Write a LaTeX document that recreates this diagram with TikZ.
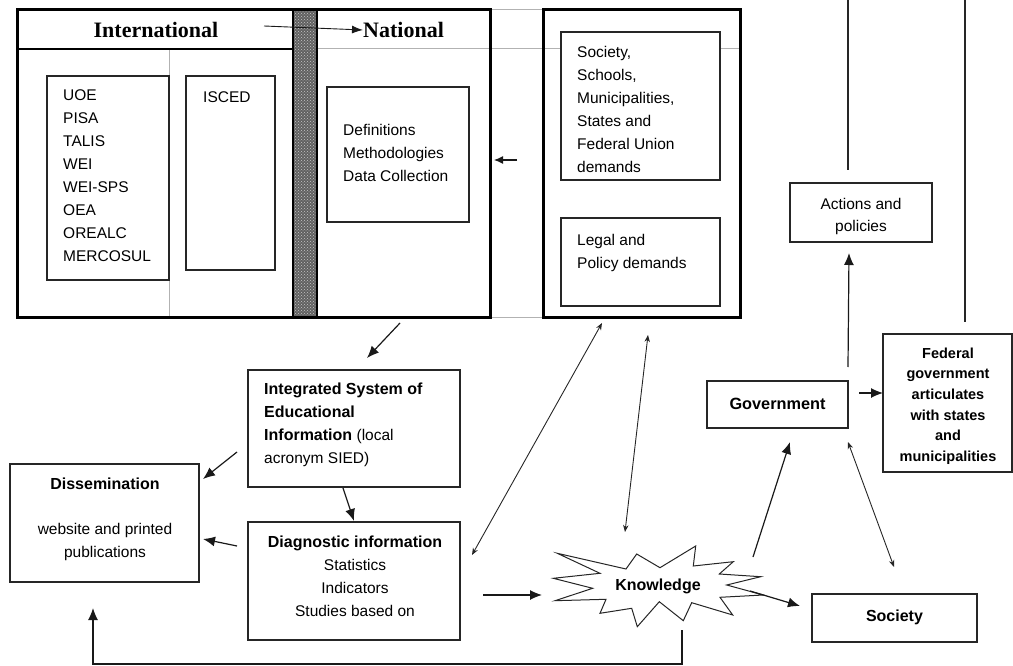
\documentclass[tikz,border=0pt]{standalone}
\usepackage{fontspec}
\setmainfont{Liberation Sans}
\newfontfamily\headserif{Liberation Serif}
\usetikzlibrary{arrows.meta,patterns}
\begin{document}
\begin{tikzpicture}[x=1pt,y=-1pt,
  box/.style={draw=black!85, line width=1.1pt, fill=white, inner sep=0pt, outer sep=0pt},
  frame/.style={draw=black, line width=3pt, inner sep=0pt, outer sep=0pt},
  gridline/.style={draw=black!30, line width=1pt},
  ln/.style={draw=black!85, line width=1.1pt},
  t/.style={font=\fontsize{15.5}{23}\selectfont, inner sep=0pt, align=left, anchor=north west},
  tc/.style={font=\fontsize{15.5}{23}\selectfont, inner sep=0pt, align=center, anchor=north},
  tb/.style={font=\bfseries\fontsize{16}{23}\selectfont, inner sep=0pt},
  head/.style={font=\headserif\bfseries\fontsize{22}{26}\selectfont, inner sep=0pt},
  arr/.style={draw=black!90, line width=1.2pt, -{Latex[length=12pt,width=10pt]}},
  darr/.style={draw=black!85, line width=0.9pt, {Stealth[length=7pt,width=5.5pt]}-{Stealth[length=7pt,width=5.5pt]}}
]
\useasboundingbox (0,0) rectangle (1013,666);

% table grid (grey)
\draw[gridline] (317,49) -- (740,49);
\draw[gridline] (169,49) -- (169,317);
\draw[gridline] (490,10) -- (543,10);
\draw[gridline] (490,317) -- (543,317);

% hatched bar
\fill[black!62] (293,10) rectangle (317,317);
\fill[pattern=crosshatch dots, pattern color=white!78!black] (293,10) rectangle (317,317);
\draw[black, line width=1.2pt] (293,10) rectangle (317,317);

% outer frames
\node[frame, minimum width=473pt, minimum height=307pt] (intl) at (253.5,163.5) {};
\node[frame, minimum width=197pt, minimum height=307pt] (dem) at (641.5,163.5) {};
\draw[draw=black, line width=1.2pt] (17,49) -- (293,49);

% headers
\node[head] (hint) at (156,30) {International};
\node[head, anchor=west] (hnat) at (363,30) {National};
\coordinate (a1s) at (264,26);
\coordinate (a1e) at (363,30);
\draw[arr, line width=0.9pt, -{Latex[length=11pt,width=8pt]}] (a1s) -- (a1e);

% inner boxes top
\node[box, minimum width=122pt, minimum height=204pt] (uoe) at (108,178) {};
\node[t] (uoet) at (63,89.5) {UOE\\PISA\\TALIS\\WEI\\WEI-SPS\\OEA\\OREALC\\MERCOSUL};
\node[box, minimum width=89pt, minimum height=194pt] (isced) at (230.5,173) {};
\node[t] (iscedt) at (203,91.4) {ISCED};
\node[box, minimum width=142pt, minimum height=135pt] (defs) at (398,154.5) {};
\node[t] (defst) at (343,124.2) {Definitions\\Methodologies\\Data Collection};
\node[box, minimum width=159pt, minimum height=148pt] (socd) at (640.5,106) {};
\node[t] (socdt) at (577,45.7) {Society,\\Schools,\\Municipalities,\\States and\\Federal Union\\demands};
\node[box, minimum width=159pt, minimum height=88pt] (legal) at (640.5,262) {};
\node[t] (legalt) at (577,233.7) {Legal and\\Policy demands};

% right column
\node[box, minimum width=142pt, minimum height=59pt] (act) at (861,212.5) {};
\node[tc, font=\fontsize{15.5}{22}\selectfont] (actt) at (861,197.7) {Actions and\\policies};
\node[box, minimum width=129pt, minimum height=138pt] (fed) at (947.5,403) {};
\node[tc, font=\bfseries\fontsize{14.5}{20.6}\selectfont] (fedt) at (948,347.5) {Federal\\government\\articulates\\with states\\and\\municipalities};
\node[box, minimum width=141pt, minimum height=47pt] (gov) at (777.5,404.5) {};
\node[tb, font=\bfseries\fontsize{16.3}{20}\selectfont] (govt) at (777.5,404) {Government};
\node[box, minimum width=165pt, minimum height=48pt] (soc) at (894.5,618) {};
\node[tb] (soct) at (894.5,617) {Society};

\coordinate (v1t) at (848,0);
\coordinate (v1b) at (848,170);
\draw[ln] (v1t) -- (v1b);
\coordinate (v2t) at (965,0);
\coordinate (v2b) at (965,322);
\draw[ln] (v2t) -- (v2b);

% lower left
\node[box, minimum width=212pt, minimum height=117pt] (integ) at (354,428.5) {};
\node[t] (integt) at (264,383) {\bfseries\fontsize{16}{23}\selectfont Integrated System of\\\bfseries\fontsize{16}{23}\selectfont Educational\\\bfseries\fontsize{16}{23}\selectfont Information \mdseries\fontsize{15.5}{23}\selectfont(local\\acronym SIED)};
\node[box, minimum width=212pt, minimum height=118pt] (diag) at (354,581) {};
\node[tb] (diagh) at (355,543) {Diagnostic information};
\node[tc] (diagt) at (355,559.2) {Statistics\\Indicators\\Studies based on};
\node[box, minimum width=189pt, minimum height=118pt] (dis) at (104.5,523) {};
\node[tb] (dish) at (105,484) {Dissemination};
\node[tc] (dist) at (105,523.2) {website and printed\\publications};

% knowledge star
\draw[draw=black!85, line width=1pt, fill=white]
 (557.3,553.3) -- (626,569) -- (636.7,554) -- (660,567.7) -- (695.7,546) -- (693.3,566)
 -- (733.3,561.7) -- (719.3,574) -- (760.7,576.7) -- (726.7,585) -- (763.3,595) -- (720,597.3)
 -- (732.7,615) -- (691.7,602.7) -- (683.3,620.7) -- (659.3,601.7) -- (637.3,626.7) -- (631.7,608.3)
 -- (600,613.3) -- (606,599.3) -- (555,600.7) -- (592.7,588.3) -- (553.3,578.3) -- (600,573.3) -- cycle;
\node[tb] (know) at (658,586) {Knowledge};

% connectors
\coordinate (a2s) at (517,160); \coordinate (a2e) at (494,160);
\draw[arr, -{Latex[length=9pt,width=8pt]}] (a2s) -- (a2e);
\coordinate (a3s) at (400,323); \coordinate (a3e) at (367,358);
\draw[arr] (a3s) -- (a3e);
\coordinate (a4s) at (237,452); \coordinate (a4e) at (203,479);
\draw[arr] (a4s) -- (a4e);
\coordinate (a5s) at (237,546); \coordinate (a5e) at (203,539);
\draw[arr] (a5s) -- (a5e);
\coordinate (a6s) at (343,488); \coordinate (a6e) at (354,521);
\draw[arr] (a6s) -- (a6e);
\coordinate (a7s) at (483,595); \coordinate (a7e) at (542,595);
\draw[arr] (a7s) -- (a7e);
\coordinate (a8s) at (750,591); \coordinate (a8e) at (800,606);
\draw[arr] (a8s) -- (a8e);
\coordinate (a9s) at (753,557); \coordinate (a9e) at (790,442);
\draw[arr] (a9s) -- (a9e);
\coordinate (a10s) at (848,442); \coordinate (a10e) at (894,567);
\draw[darr] (a10s) -- (a10e);
\coordinate (a11s) at (648,335); \coordinate (a11e) at (625,532);
\draw[darr] (a11s) -- (a11e);
\coordinate (a12s) at (602,323); \coordinate (a12e) at (472,555);
\draw[darr] (a12s) -- (a12e);
\coordinate (a13s) at (848,367); \coordinate (a13e) at (849,253);
\draw[arr] (a13s) -- (a13e);
\coordinate (a14s) at (859,393);
\draw[arr] (a14s) -- (a14s -| fed.west);
\coordinate (fbs) at (682,630); \coordinate (fbe) at (93,608);
\draw[arr] (fbs) -- (682,664) -- (93,664) -- (fbe);
\end{tikzpicture}
\end{document}
